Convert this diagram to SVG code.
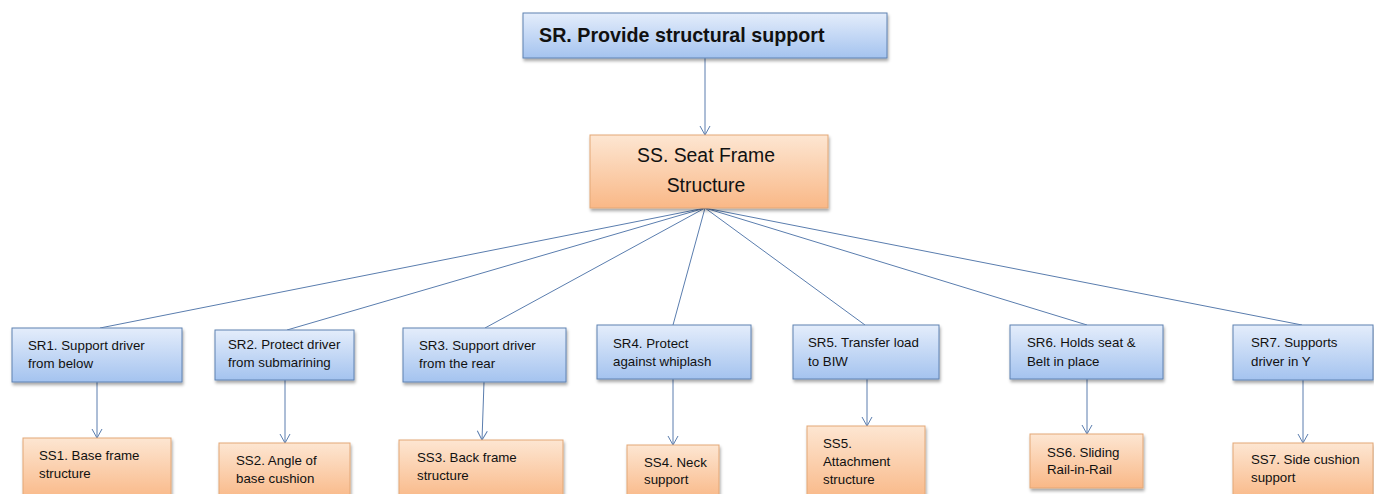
<svg xmlns="http://www.w3.org/2000/svg" width="1374" height="494" viewBox="0 0 1374 494">
<style>
.blue{fill:url(#gb);stroke:#5f82b2;stroke-width:1;filter:url(#sh)}
.orange{fill:url(#go);stroke:#e3a776;stroke-width:1;filter:url(#sh)}
.t{font-family:"Liberation Sans",Arial,sans-serif;font-size:13.3px;fill:#111}
.title{font-family:"Liberation Sans",Arial,sans-serif;font-size:19.7px;font-weight:bold;fill:#111}
.ss{font-family:"Liberation Sans",Arial,sans-serif;font-size:19.4px;fill:#111;text-anchor:middle}
.c{stroke:#5a7dae;stroke-width:1;fill:none}
.a{marker-end:url(#arr)}
</style>
<defs>
<linearGradient id="gb" x1="0" y1="0" x2="0" y2="1">
<stop offset="0" stop-color="#e4edfb"/>
<stop offset="1" stop-color="#a4c3ef"/>
</linearGradient>
<linearGradient id="go" x1="0" y1="0" x2="0" y2="1">
<stop offset="0" stop-color="#fde6d2"/>
<stop offset="1" stop-color="#f9b887"/>
</linearGradient>
<filter id="sh" x="-10%" y="-10%" width="125%" height="140%">
<feDropShadow dx="1" dy="2.5" stdDeviation="1.5" flood-color="#000" flood-opacity="0.35"/>
</filter>
<marker id="arr" viewBox="-11 -6 12 12" markerWidth="12" markerHeight="12" refX="0" refY="0" orient="auto" markerUnits="userSpaceOnUse">
<path d="M-9,-5 L0,0 L-9,5" fill="none" stroke="#5a7dae" stroke-width="1"/>
</marker>
</defs>

<g id="connectors">
<line class="c a" x1="705" y1="58" x2="705" y2="135"/>
<line class="c" x1="705" y1="208" x2="100" y2="328"/>
<line class="c" x1="705" y1="208" x2="287" y2="330"/>
<line class="c" x1="705" y1="208" x2="485" y2="328"/>
<line class="c" x1="705" y1="208" x2="673" y2="325"/>
<line class="c" x1="705" y1="208" x2="865" y2="325"/>
<line class="c" x1="705" y1="208" x2="1087" y2="325"/>
<line class="c" x1="705" y1="208" x2="1302" y2="325"/>
<line class="c a" x1="97" y1="382" x2="97" y2="438"/>
<line class="c a" x1="285" y1="380" x2="285" y2="443"/>
<line class="c a" x1="484" y1="382" x2="482" y2="440"/>
<line class="c a" x1="673" y1="379" x2="673" y2="445"/>
<line class="c a" x1="867" y1="379" x2="867" y2="426"/>
<line class="c a" x1="1087" y1="379" x2="1087" y2="434"/>
<line class="c a" x1="1303" y1="380" x2="1303" y2="443"/>
</g>

<g id="SR">
<rect class="blue" x="523" y="13" width="364" height="45"/>
<text class="title" x="539" y="42">SR. Provide structural support</text>
</g>
<g id="SS">
<rect class="orange" x="590" y="135" width="238" height="73"/>
<text class="ss" x="706" y="162">SS. Seat Frame</text>
<text class="ss" x="706" y="192">Structure</text>
</g>

<g id="SR1">
<rect class="blue" x="12" y="328" width="170" height="54"/>
<text class="t" x="28" y="350">SR1. Support driver</text>
<text class="t" x="28" y="368">from below</text>
</g>
<g id="SR2">
<rect class="blue" x="215" y="330" width="139" height="50"/>
<text class="t" x="228" y="349">SR2. Protect driver</text>
<text class="t" x="228" y="367">from submarining</text>
</g>
<g id="SR3">
<rect class="blue" x="403" y="328" width="163" height="54"/>
<text class="t" x="419" y="350">SR3. Support driver</text>
<text class="t" x="419" y="368">from the rear</text>
</g>
<g id="SR4">
<rect class="blue" x="597" y="325" width="154" height="54"/>
<text class="t" x="613" y="348">SR4. Protect</text>
<text class="t" x="613" y="366">against whiplash</text>
</g>
<g id="SR5">
<rect class="blue" x="793" y="325" width="146" height="54"/>
<text class="t" x="808" y="347">SR5. Transfer load</text>
<text class="t" x="808" y="366">to BIW</text>
</g>
<g id="SR6">
<rect class="blue" x="1010" y="325" width="153" height="54"/>
<text class="t" x="1027" y="347">SR6. Holds seat &amp;</text>
<text class="t" x="1027" y="366">Belt in place</text>
</g>
<g id="SR7">
<rect class="blue" x="1233" y="325" width="140" height="55"/>
<text class="t" x="1251" y="347">SR7. Supports</text>
<text class="t" x="1251" y="366">driver in Y</text>
</g>

<g id="SS1">
<rect class="orange" x="23" y="438" width="148" height="62"/>
<text class="t" x="39" y="460">SS1. Base frame</text>
<text class="t" x="39" y="478">structure</text>
</g>
<g id="SS2">
<rect class="orange" x="219" y="443" width="131" height="57"/>
<text class="t" x="236" y="465">SS2. Angle of</text>
<text class="t" x="236" y="483">base cushion</text>
</g>
<g id="SS3">
<rect class="orange" x="399" y="440" width="164" height="60"/>
<text class="t" x="417" y="462">SS3. Back frame</text>
<text class="t" x="417" y="480">structure</text>
</g>
<g id="SS4">
<rect class="orange" x="627" y="445" width="92" height="55"/>
<text class="t" x="644" y="467">SS4. Neck</text>
<text class="t" x="644" y="484">support</text>
</g>
<g id="SS5">
<rect class="orange" x="807" y="426" width="118" height="74"/>
<text class="t" x="823" y="448">SS5.</text>
<text class="t" x="823" y="466">Attachment</text>
<text class="t" x="823" y="484">structure</text>
</g>
<g id="SS6">
<rect class="orange" x="1030" y="434" width="113" height="54"/>
<text class="t" x="1047" y="457">SS6. Sliding</text>
<text class="t" x="1047" y="474">Rail-in-Rail</text>
</g>
<g id="SS7">
<rect class="orange" x="1233" y="443" width="140" height="57"/>
<text class="t" x="1251" y="464">SS7. Side cushion</text>
<text class="t" x="1251" y="482">support</text>
</g>
</svg>
